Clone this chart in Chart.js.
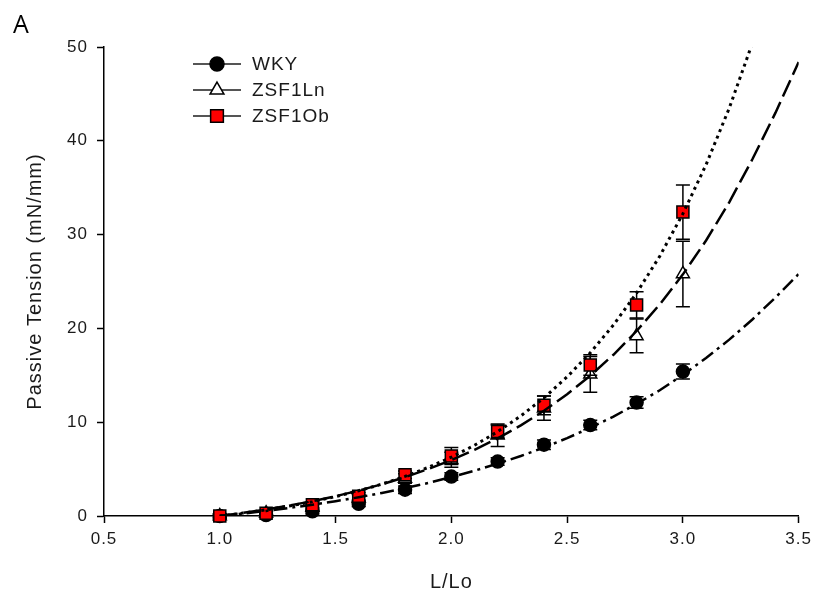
<!DOCTYPE html>
<html>
<head>
<meta charset="utf-8">
<title>Passive Tension</title>
<script src="https://cdn.jsdelivr.net/npm/chart.js@4.4.1/dist/chart.umd.min.js"></script>
<style>
  html, body { margin: 0; padding: 0; background: #fff; }
  #wrap { position: relative; width: 818px; height: 607px; }
</style>
</head>
<body>
<div id="wrap"><canvas id="tension-chart"></canvas></div>
<script>
// stretch (L/Lo) at each measurement
const lengthSteps = [1.0, 1.2, 1.4, 1.6, 1.8, 2.0, 2.2, 2.4, 2.6, 2.8, 3.0];

// mean passive tension (mN/mm) and SEM per group
const wkyTension = [0, 0.1, 0.5, 1.3, 2.8, 4.2, 5.8, 7.6, 9.7, 12.1, 15.4];
const wkySem     = [0.2, 0.2, 0.3, 0.3, 0.4, 0.4, 0.4, 0.5, 0.5, 0.6, 0.8];
const lnTension  = [0, 0.3, 0.9, 1.9, 4.0, 6.0, 8.6, 11.5, 15.1, 19.2, 25.8];
const lnSem      = [0.2, 0.2, 0.3, 0.4, 0.5, 0.8, 1.2, 1.3, 1.9, 1.8, 3.5];
const obTension  = [0, 0.3, 1.2, 2.1, 4.4, 6.4, 9.0, 11.8, 16.1, 22.5, 32.4];
const obSem      = [0.2, 0.2, 0.3, 0.4, 0.4, 0.9, 0.7, 1.0, 1.1, 1.4, 2.9];

// exponential fit curves, sampled every 0.1
const fitSteps = [1.0, 1.1, 1.2, 1.3, 1.4, 1.5, 1.6, 1.7, 1.8, 1.9, 2.0, 2.1, 2.2,
                  2.3, 2.4, 2.5, 2.6, 2.7, 2.8, 2.9, 3.0, 3.1, 3.2, 3.3, 3.4, 3.5];
const wkyFit = [0, 0.26, 0.54, 0.86, 1.2, 1.58, 2.0, 2.46, 2.97, 3.52, 4.15, 4.83, 5.58,
                6.4, 7.3, 8.3, 9.4, 10.6, 11.95, 13.4, 15.05, 16.85, 18.8, 20.95, 23.3, 25.8];
const lnFit  = [0, 0.33, 0.7, 1.11, 1.58, 2.11, 2.71, 3.38, 4.14, 5.0, 5.96, 7.05, 8.28,
                9.66, 11.22, 12.98, 14.96, 17.19, 19.72, 22.56, 25.76, 29.37, 33.44, 38.03, 43.0, 48.4];
const obFit  = [0, 0.31, 0.66, 1.06, 1.53, 2.07, 2.69, 3.4, 4.23, 5.18, 6.27, 7.54, 8.99,
                10.67, 12.6, 14.83, 17.4, 20.36, 23.77, 27.7, 32.23, 37.45, 43.47, 50.41];

// axis ticks
const xTickValues = [0.5, 1.0, 1.5, 2.0, 2.5, 3.0, 3.5];
const xTickLabels = ['0.5', '1.0', '1.5', '2.0', '2.5', '3.0', '3.5'];
const yTickValues = [0, 10, 20, 30, 40, 50];
const yTickLabels = ['0', '10', '20', '30', '40', '50'];

const groupNames = ['WKY', 'ZSF1Ln', 'ZSF1Ob'];

const TEXT = '#1a1a1a';
const FONT = "'Liberation Sans', Arial, sans-serif";

const toPoints = (xs, ys) => ys.map((y, i) => ({ x: xs[i], y: y }));

const markerStyles = [
  { pointStyle: 'circle', radius: 6.5, backgroundColor: '#000', borderColor: '#000' },
  { pointStyle: 'triangle', radius: 7.5, backgroundColor: '#fff', borderColor: '#000' },
  { pointStyle: 'rect', radius: 8.5, backgroundColor: '#ff0000', borderColor: '#000' }
];

function fitLine(label, values, dash, width, order) {
  return {
    label: label,
    data: toPoints(fitSteps, values),
    showLine: true,
    borderColor: '#000',
    borderWidth: width,
    borderDash: dash,
    pointRadius: 0,
    pointHoverRadius: 0,
    order: order
  };
}

function markers(idx, values, sem, order) {
  const m = markerStyles[idx];
  return {
    label: groupNames[idx],
    data: toPoints(lengthSteps, values),
    sem: sem,
    showLine: false,
    pointStyle: m.pointStyle,
    pointRadius: m.radius,
    pointBackgroundColor: m.backgroundColor,
    pointBorderColor: m.borderColor,
    pointBorderWidth: 1.5,
    clip: false,
    order: order
  };
}

// vertical SEM bars with caps, drawn just under each marker set
const errorBars = {
  id: 'errorBars',
  beforeDatasetDraw(chart, args) {
    const ds = chart.data.datasets[args.index];
    if (!ds.sem) return;
    const ctx = chart.ctx;
    const yScale = chart.scales.y;
    ctx.save();
    ctx.strokeStyle = '#000';
    ctx.lineWidth = 1.5;
    args.meta.data.forEach((pt, i) => {
      const v = ds.data[i].y;
      const e = ds.sem[i];
      const top = yScale.getPixelForValue(v + e);
      const bottom = yScale.getPixelForValue(v - e);
      ctx.beginPath();
      ctx.moveTo(pt.x, top);
      ctx.lineTo(pt.x, bottom);
      ctx.moveTo(pt.x - 7, top);
      ctx.lineTo(pt.x + 7, top);
      ctx.moveTo(pt.x - 7, bottom);
      ctx.lineTo(pt.x + 7, bottom);
      ctx.stroke();
    });
    ctx.restore();
  }
};

// wider text tracking for all labels
const tracking = {
  id: 'tracking',
  beforeUpdate(chart) { chart.ctx.letterSpacing = '1px'; },
  beforeDraw(chart) { chart.ctx.letterSpacing = '1px'; }
};

// line-and-symbol legend plus the panel letter
const keyBox = {
  id: 'keyBox',
  afterDraw(chart) {
    const ctx = chart.ctx;
    const rows = [64, 90, 116];
    ctx.save();
    groupNames.forEach((name, i) => {
      const y = rows[i];
      const m = markerStyles[i];
      ctx.strokeStyle = '#555';
      ctx.lineWidth = 2;
      ctx.setLineDash([]);
      ctx.beginPath();
      ctx.moveTo(193, y);
      ctx.lineTo(241, y);
      ctx.stroke();
      ctx.fillStyle = m.backgroundColor;
      ctx.strokeStyle = m.borderColor;
      ctx.lineWidth = 1.5;
      Chart.helpers.drawPoint(ctx, {
        pointStyle: m.pointStyle,
        radius: m.radius + 0.5,
        borderWidth: 1.5,
        rotation: 0
      }, 217, y);
      ctx.fillStyle = TEXT;
      ctx.font = '19px ' + FONT;
      ctx.textAlign = 'left';
      ctx.textBaseline = 'middle';
      ctx.fillText(name, 252, y + 1);
    });
    ctx.fillStyle = '#000';
    ctx.letterSpacing = '0px';
    ctx.font = "25px 'Open Sans', sans-serif";
    ctx.textAlign = 'left';
    ctx.textBaseline = 'alphabetic';
    ctx.fillText('A', 13, 33);
    ctx.restore();
  }
};

Chart.defaults.font.family = FONT;
Chart.defaults.color = TEXT;

new Chart(document.getElementById('tension-chart'), {
  type: 'scatter',
  data: {
    datasets: [
      fitLine('WKY fit', wkyFit, [14, 5, 3, 5], 2.5, 0),
      fitLine('ZSF1Ln fit', lnFit, [18, 6], 2.5, 1),
      fitLine('ZSF1Ob fit', obFit, [3, 4], 3, 2),
      markers(2, obTension, obSem, 3),
      markers(1, lnTension, lnSem, 4),
      markers(0, wkyTension, wkySem, 5)
    ]
  },
  options: {
    responsive: true,
    maintainAspectRatio: false,
    animation: false,
    events: [],
    layout: { padding: { top: 47, right: 16, left: 0, bottom: 0 } },
    plugins: {
      legend: { display: false },
      tooltip: { enabled: false }
    },
    scales: {
      x: {
        type: 'linear',
        position: 'bottom',
        min: 0.5,
        max: 3.5,
        afterBuildTicks: s => { s.ticks = xTickValues.map(v => ({ value: v })); },
        afterFit: s => { s.height = 91; },
        ticks: {
          callback: (v, i) => xTickLabels[i],
          font: { size: 17 },
          color: TEXT,
          padding: 6,
          maxRotation: 0
        },
        grid: { drawOnChartArea: false, drawTicks: true, tickLength: 7, tickColor: '#000', tickWidth: 1.5 },
        border: { display: true, color: '#000', width: 1.5 },
        title: {
          display: true,
          text: 'L/Lo',
          font: { size: 20 },
          color: TEXT,
          padding: { top: 0, bottom: 13 }
        }
      },
      y: {
        type: 'linear',
        min: 0,
        max: 50,
        afterBuildTicks: s => { s.ticks = yTickValues.map(v => ({ value: v })); },
        afterFit: s => { s.width = 104; },
        ticks: {
          callback: (v, i) => yTickLabels[i],
          font: { size: 17 },
          color: TEXT,
          padding: 9
        },
        grid: { drawOnChartArea: false, drawTicks: true, tickLength: 7, tickColor: '#000', tickWidth: 1.5 },
        border: { display: true, color: '#000', width: 1.5 },
        title: {
          display: true,
          text: 'Passive Tension (mN/mm)',
          font: { size: 20 },
          color: TEXT,
          padding: { top: 23, bottom: 0 }
        }
      }
    }
  },
  plugins: [tracking, errorBars, keyBox]
});
</script>
</body>
</html>
